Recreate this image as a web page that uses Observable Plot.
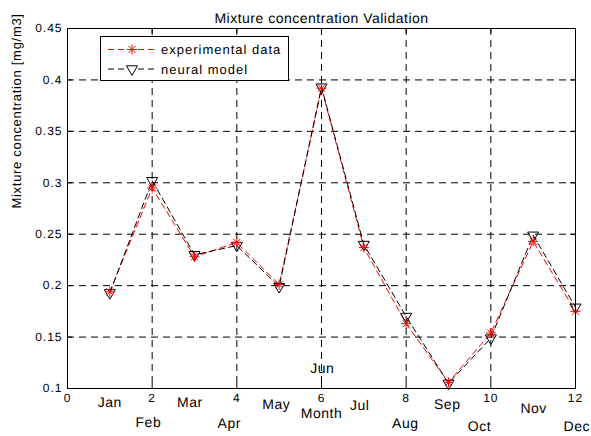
<!DOCTYPE html>
<html>
<head>
<meta charset="utf-8">
<script src="https://cdn.jsdelivr.net/npm/d3@7"></script>
<script src="https://cdn.jsdelivr.net/npm/@observablehq/plot@0.6"></script>
<style>
  body { margin: 0; background: #fff; }
  #chart { position: relative; width: 591px; height: 436px; }
  #chart svg text { text-rendering: geometricPrecision; }
</style>
</head>
<body>
<div id="chart"></div>
<script>
// Monthly mixture concentration: measured values vs. neural model output
const months = ["Jan", "Feb", "Mar", "Apr", "May", "Jun", "Jul", "Aug", "Sep", "Oct", "Nov", "Dec"];
const monthIndex = [1, 2, 3, 4, 5, 6, 7, 8, 9, 10, 11, 12];
const experimental = [0.194, 0.295, 0.228, 0.242, 0.201, 0.392, 0.237, 0.163, 0.106, 0.154, 0.243, 0.175];
const neural = [0.193, 0.302, 0.230, 0.239, 0.199, 0.393, 0.240, 0.170, 0.105, 0.149, 0.249, 0.179];

// month name annotations, placed in data units
const labelX = [1.0, 1.91, 2.89, 3.82, 4.93, 6.02, 6.9, 7.98, 8.97, 9.73, 11.01, 12.03];
const labelY = [0.086, 0.067, 0.086, 0.066, 0.084, 0.119, 0.083, 0.066, 0.084, 0.063, 0.081, 0.063];

const xTicks = [0, 2, 4, 6, 8, 10, 12];
const yTicks = [0.1, 0.15, 0.2, 0.25, 0.3, 0.35, 0.4, 0.45];
const yTickLabels = ["0.1", "0.15", "0.2", "0.25", "0.3", "0.35", "0.4", "0.45"];

const seriesNames = ["experimental data", "neural model"];
const titleText = "Mixture concentration Validation";
const xLabelText = "Month";
const yLabelText = "Mixture concentration [mg/m3]";

const rows = months.map((m, i) => ({
  month: m, x: monthIndex[i], exp: experimental[i], nn: neural[i], lx: labelX[i], ly: labelY[i]
}));

const font = "'Liberation Sans', Arial, Helvetica, sans-serif";
const W = 591, H = 436, mL = 67, mR = 16, mT = 28, mB = 48;
const frameW = W - mL - mR, frameH = H - mT - mB;
const gridStyle = { stroke: "#000", strokeOpacity: 1, strokeWidth: 1, strokeDasharray: "7,5" };

const plot = Plot.plot({
  width: W, height: H,
  marginLeft: mL, marginRight: mR, marginTop: mT, marginBottom: mB,
  style: { fontFamily: font, fontSize: "12px", fontWeight: "normal", color: "#000", background: "#fff" },
  x: { domain: [0, 12] },
  y: { domain: [0.1, 0.45] },
  marks: [
    Plot.gridX(xTicks, gridStyle),
    Plot.gridY(yTicks, gridStyle),
    // inward tick marks on all four sides
    Plot.tickX(xTicks, { x: d => d, insetTop: frameH - 5, stroke: "#000" }),
    Plot.tickX(xTicks, { x: d => d, insetBottom: frameH - 5, stroke: "#000" }),
    Plot.tickY(yTicks, { y: d => d, insetRight: frameW - 5, stroke: "#000" }),
    Plot.tickY(yTicks, { y: d => d, insetLeft: frameW - 5, stroke: "#000" }),
    Plot.axisX(xTicks, { anchor: "bottom", tickSize: 0, tickPadding: 5, label: null, fontSize: 12 }),
    Plot.axisY(yTicks, {
      anchor: "left", tickSize: 0, tickPadding: 5, label: null, fontSize: 12,
      tickFormat: d => yTickLabels[yTicks.indexOf(d)]
    }),
    Plot.lineY(rows, { x: "x", y: "exp", stroke: "#ff0000", strokeWidth: 1, strokeDasharray: "6,4" }),
    Plot.lineY(rows, { x: "x", y: "nn", stroke: "#000", strokeWidth: 1, strokeDasharray: "6,4" }),
    Plot.dot(rows, { x: "x", y: "nn", symbol: "triangle", rotate: 180, r: 4.1, stroke: "#000", strokeWidth: 1, fill: "none" }),
    Plot.dot(rows, { x: "x", y: "exp", symbol: "plus", r: 3.3, stroke: "#ff0000", strokeWidth: 1 }),
    Plot.dot(rows, { x: "x", y: "exp", symbol: "times", r: 3.3, stroke: "#ff0000", strokeWidth: 1 }),
    Plot.text(rows, { x: "lx", y: "ly", text: "month", fontSize: 14, fontWeight: "normal", fill: "#000" }),
    Plot.text([titleText], { frameAnchor: "top", dy: -15, fontSize: 14, fontWeight: "normal", fill: "#000" }),
    Plot.text([xLabelText], { frameAnchor: "bottom", dy: 29, fontSize: 14, fontWeight: "normal", fill: "#000" }),
    Plot.text([yLabelText], { frameAnchor: "left", dx: -51, rotate: -90, fontSize: 13, fontWeight: "normal", fill: "#000" }),
    Plot.frame({ stroke: "#000", strokeWidth: 1 })
  ]
});

const svg = d3.select(plot);

// Helvetica-like spacing for the labels
svg.selectAll('g[aria-label="x-axis tick label"], g[aria-label="y-axis tick label"]').style("letter-spacing", "1px");
const textGroups = svg.selectAll('g[aria-label="text"]').nodes();
const spacing = ["0.5px", "0.5px", "0.5px", "0.7px"];
textGroups.forEach((g, i) => d3.select(g).style("letter-spacing", spacing[i] || "0px"));

// legend box in the upper left corner of the axes
const legend = svg.append("g")
  .attr("font-family", font)
  .attr("font-size", 13)
  .attr("text-anchor", "start")
  .style("letter-spacing", "1px");
legend.append("rect")
  .attr("x", 100.5).attr("y", 36.5).attr("width", 188).attr("height", 44)
  .attr("fill", "#fff").attr("stroke", "#000").attr("stroke-width", 1);

const legendItems = [
  { name: seriesNames[0], color: "#ff0000", marker: "star" },
  { name: seriesNames[1], color: "#000", marker: "triangle" }
];
legendItems.forEach((item, i) => {
  const cy = 49.5 + i * 19.5;
  legend.append("line")
    .attr("x1", 108).attr("x2", 156).attr("y1", cy).attr("y2", cy)
    .attr("stroke", item.color).attr("stroke-dasharray", "6,4");
  if (item.marker === "star") {
    [d3.symbolPlus, d3.symbolTimes].forEach(sym => {
      legend.append("path")
        .attr("d", d3.symbol(sym, Math.PI * 3.3 * 3.3)())
        .attr("transform", `translate(132,${cy})`)
        .attr("fill", "none").attr("stroke", item.color);
    });
  } else {
    legend.append("path")
      .attr("d", d3.symbol(d3.symbolTriangle, Math.PI * 4.1 * 4.1)())
      .attr("transform", `translate(132,${cy}) rotate(180)`)
      .attr("fill", "#fff").attr("stroke", item.color);
  }
  legend.append("text")
    .attr("x", 161).attr("y", cy).attr("dy", "0.35em")
    .attr("fill", "#000")
    .text(item.name);
});

document.getElementById("chart").appendChild(plot);
</script>
</body>
</html>
